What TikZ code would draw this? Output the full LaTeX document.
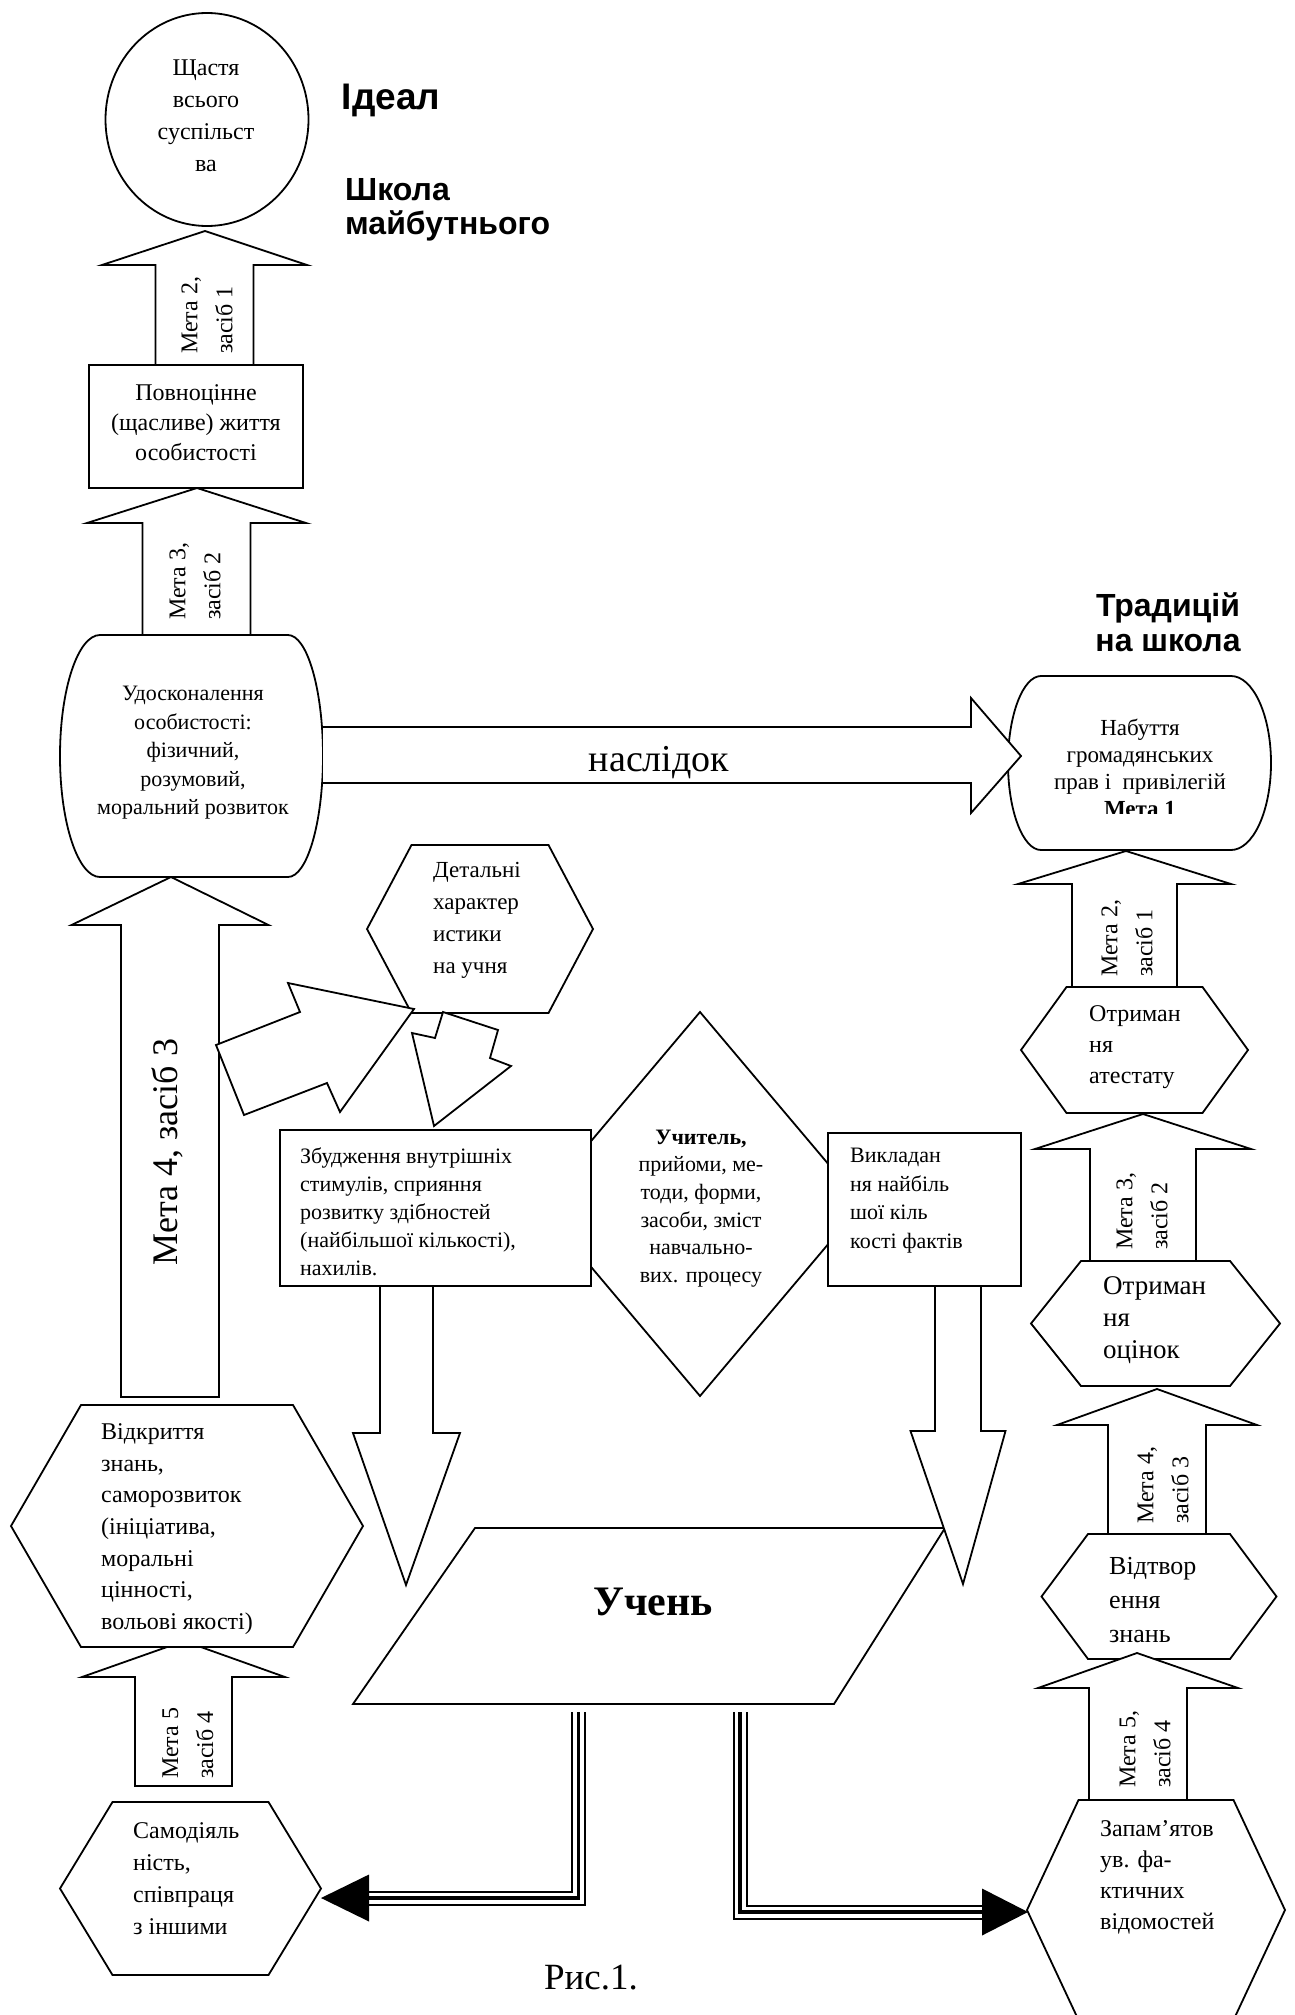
\documentclass[tikz,border=0pt]{standalone}
\usepackage{fontspec}
\setmainfont{Liberation Serif}
\newfontfamily\sansb{Liberation Sans}
\usetikzlibrary{shapes.geometric}
\newcommand{\myfs}[2]{\fontsize{#1}{#2}\selectfont}
% vertical block arrow: tipx tipy cx headbase headhalf shafthalf tail
\newcommand{\blockv}[7]{\draw[outline] (#1,#2) -- ({#3+#5},#4) -- ({#3+#6},#4) -- ({#3+#6},#7) -- ({#3-#6},#7) -- ({#3-#6},#4) -- ({#3-#5},#4) -- cycle;}
% hexagon: cx cy halfwidth tophalfwidth halfheight
\newcommand{\hexa}[5]{\draw[outline] ({#1-#4},{#2-#5}) -- ({#1+#4},{#2-#5}) -- ({#1+#3},#2) -- ({#1+#4},{#2+#5}) -- ({#1-#4},{#2+#5}) -- ({#1-#3},#2) -- cycle;}
\tikzset{
 outline/.style={draw=black, line width=1.8pt, fill=white, line join=miter, miter limit=10},
 txt/.style={inner sep=0pt, align=center},
 txtl/.style={inner sep=0pt, align=left, anchor=west},
 rotl/.style={inner sep=0pt, align=left, anchor=west, rotate=90, font={\myfs{24}{35}}},
 tripleline/.style={draw=black, line width=15pt, line join=miter,
   postaction={draw=white, line width=11pt},
   postaction={draw=black, line width=3.5pt}},
}
\begin{document}
\begin{tikzpicture}[x=1pt,y=-1pt]
\useasboundingbox (0,0) rectangle (1294,2015);
\fill[white] (0,0) rectangle (1294,2015);

% ---------- left column, top ----------
\node[outline, ellipse, minimum width=203pt, minimum height=213pt, inner sep=0pt] (happy) at (207,119.5) {};
\node[txt, font={\myfs{24}{32}}] (happyT) at (206,116) {Щастя\\всього\\суспільст\\ва};
\node[txt, font={\sansb\bfseries\myfs{37}{40}}] (idealT) at (391,100) {Ідеал};
\node[txtl, font={\sansb\bfseries\myfs{32}{34}}] (futureT) at (345,210) {Школа\\майбутнього};

\blockv{205}{231}{204.5}{265}{102.5}{49}{365}
\node[rotl] (a1T) at (207,354) {Мета 2,\\засіб 1};
\node[outline, minimum width=214pt, minimum height=123pt, inner sep=0pt] (life) at (196,426.5) {};
\node[txt, font={\myfs{24}{30}}] (lifeT) at (196,423) {Повноцінне\\(щасливе) життя\\особистості};

\blockv{197}{488}{196.5}{523}{109.5}{54}{635}
\node[rotl] (a2T) at (195,620) {Мета 3,\\засіб 2};

% barrel shape: perfection
\draw[outline] (100,635) -- (288,635) .. controls (307,635) and (323,689) .. (323,756)
  .. controls (323,823) and (307,877) .. (288,877) -- (100,877)
  .. controls (78,877) and (60,823) .. (60,756) .. controls (60,689) and (78,635) .. (100,635) -- cycle;
\node[txt, font={\myfs{22}{28.5}}] (perfT) at (193,753) {Удосконалення\\особистості:\\фізичний,\\розумовий,\\моральний розвиток};

% barrel shape: rights
\draw[outline] (1041,676) -- (1231,676) .. controls (1253,676) and (1271,715) .. (1271,763)
  .. controls (1271,811) and (1253,850) .. (1231,850) -- (1041,850)
  .. controls (1023,850) and (1008,811) .. (1008,763) .. controls (1008,715) and (1023,676) .. (1041,676) -- cycle;
\begin{scope}
\clip (1000,670) rectangle (1280,813);
\node[txt, font={\myfs{23}{27}}] (rightsT) at (1140,767.5) {Набуття\\громадянських\\прав і~ привілегій\\\textbf{Мета 1}};
\end{scope}
\node[txt, font={\sansb\bfseries\myfs{32}{35}}] (tradT) at (1168,622.5) {Традицій\\на школа};

% consequence arrow
\draw[outline] (323,727) -- (971,727) -- (971,698) -- (1021,756) -- (971,813) -- (971,783) -- (323,783);
\node[txt, font={\myfs{38}{40}}] (consT) at (659,763) {наслідок};

% ---------- right column ----------
\blockv{1126}{851}{1124.5}{884}{106.5}{52.5}{987}
\node[rotl] (r1T) at (1127,977) {Мета 2,\\засіб 1};
\hexa{1134.5}{1050}{113.5}{68}{63}
\node[txtl, font={\myfs{24}{31}}] (certT) at (1089,1047.5) {Отриман\\ня\\атестату};

\blockv{1143}{1114}{1143}{1149}{108}{53}{1261}
\node[rotl] (r2T) at (1142,1250) {Мета 3,\\засіб 2};
\hexa{1155.5}{1323.5}{124.5}{74.5}{62.5}
\node[txtl, font={\myfs{27}{32}}] (marksT) at (1103,1320.5) {Отриман\\ня\\оцінок};

\blockv{1157}{1389}{1157}{1425}{100}{49}{1536}
\node[rotl] (r3T) at (1163,1524) {Мета 4,\\засіб 3};
\hexa{1159}{1596.5}{117.5}{71}{62.5}
\node[txtl, font={\myfs{26}{34}}] (reprT) at (1109,1600) {Відтвор\\ення\\знань};

\blockv{1137}{1653}{1138}{1688}{100}{49}{1800}
\node[rotl] (r4T) at (1145,1788) {Мета 5,\\засіб 4};
\begin{scope}
\clip (0,0) rectangle (1294,2015);
\hexa{1156}{1910}{129}{77.5}{110}
\end{scope}
\node[txtl, font={\myfs{24}{31}}] (memT) at (1100,1877) {Запам’ятов\\ув. фа-\\ктичних\\відомостей};

% ---------- middle ----------
\blockv{171}{877}{170}{925}{98.5}{49}{1397}
\node[inner sep=0pt, rotate=90, font={\myfs{36}{40}}] (a3T) at (167,1152) {Мета 4, засіб 3};

\draw[outline] (700,1012) -- (862,1204) -- (700,1396) -- (538,1204) -- cycle;
\node[txt, font={\myfs{22}{27.6}}] (teachT) at (701,1208.5) {\textbf{Учитель,}\\прийоми, ме-\\тоди, форми,\\засоби, зміст\\навчально-\\вих. процесу};

\node[outline, minimum width=311pt, minimum height=156pt, inner sep=0pt] (stim) at (435.5,1208) {};
\node[txtl, font={\myfs{22}{28}}] (stimT) at (300,1212) {Збудження внутрішніх\\стимулів, сприяння\\розвитку здібностей\\(найбільшої кількості),\\нахилів.};

\node[outline, minimum width=193pt, minimum height=153pt, inner sep=0pt] (facts) at (924.5,1209.5) {};
\node[txtl, font={\myfs{22}{28.5}}] (factsT) at (850,1200.5) {Викладан\\ня найбіль\\шої кіль\\кості фактів};

\hexa{480}{929}{113}{68.5}{84}
\node[txtl, font={\myfs{23}{32}}] (detT) at (433,920.5) {Детальні\\характер\\истики\\на учня};

\draw[outline] (414,1009) -- (288,983) -- (300,1012) -- (216,1045) -- (244,1115) -- (327,1083) -- (340,1112) -- cycle;
\draw[outline] (443,1012) -- (498,1030) -- (490,1058) -- (511,1066) -- (434,1126) -- (412,1033) -- (435,1038) -- cycle;

\blockv{406}{1585}{406.5}{1433}{53.5}{26.5}{1286}

\draw[outline] (475,1528) -- (945,1528) -- (834,1704) -- (353,1704) -- cycle;
\node[txt, font={\bfseries\myfs{42}{44}}] (pupil) at (653,1602) {Учень};

\blockv{963}{1584}{958}{1431}{47.5}{23}{1286}

% ---------- left column, bottom ----------
\blockv{184}{1641}{183.5}{1677}{101.5}{48.5}{1786}
\node[rotl] (a8T) at (188,1779) {Мета 5\\засіб 4};
\hexa{187}{1526}{176}{106}{121}
\node[txtl, font={\myfs{24}{31.7}}] (discT) at (101,1529) {Відкриття\\знань,\\саморозвиток\\(ініціатива,\\моральні\\цінності,\\вольові якості)};

\hexa{190.5}{1888.5}{130.5}{78}{86.5}
\node[txtl, font={\myfs{24}{32}}] (selfT) at (133,1879) {Самодіяль\\ність,\\співпраця\\з іншими};

% triple connectors
\coordinate (uL) at (578.5,1712);
\coordinate (samB) at (369,1898);
\coordinate (samTip) at (321,1898);
\coordinate (uR) at (740,1712);
\coordinate (zapB) at (982,1912);
\coordinate (zapTip) at (1028,1912);
\draw[tripleline] (uL) |- (samB);
\fill[black] (samTip) -- ++(48,-23.5) -- ++(0,47) -- cycle;
\draw[tripleline] (uR) |- (zapB);
\fill[black] (zapTip) -- ++(-46,-23.5) -- ++(0,47) -- cycle;

\node[txt, font={\myfs{37}{40}}] (fig) at (591,1978) {Рис.1.};
\end{tikzpicture}
\end{document}
